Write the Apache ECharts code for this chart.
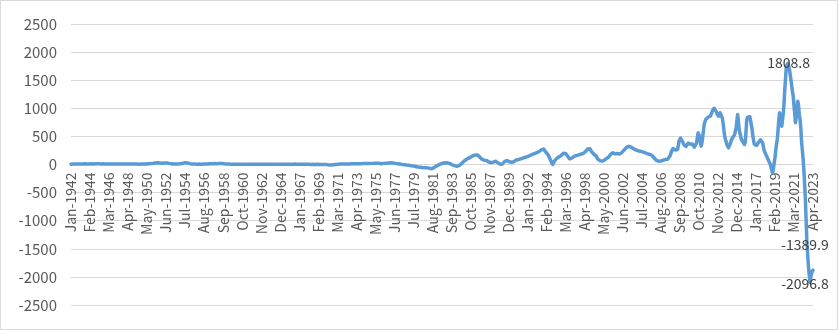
<!DOCTYPE html>
<html>
<head>
<meta charset="utf-8">
<script src="https://cdn.jsdelivr.net/npm/echarts@6/dist/echarts.min.js"></script>
<style>
html,body{margin:0;padding:0;background:#fff;}
#chart{width:838px;height:330px;}
</style>
</head>
<body>
<div id="chart"></div>
<script>
// Category setup: monthly from Jan-1942 to Apr-2023
const monthNames = ['Jan','Feb','Mar','Apr','May','Jun','Jul','Aug','Sep','Oct','Nov','Dec'];
const startYear = 1942;

// Monthly values, one row per year
const values = [
/*1942*/ 5,6,8,7,9,10,8,7,9,11,10,9,
/*1943*/ 8,10,12,11,9,10,12,13,11,10,12,11,
/*1944*/ 10,12,11,13,12,10,11,13,14,12,11,10,
/*1945*/ 12,13,11,10,12,14,13,11,10,9,11,12,
/*1946*/ 10,9,8,10,11,9,8,7,9,10,8,9,
/*1947*/ 8,9,10,8,7,9,10,11,9,8,10,9,
/*1948*/ 9,10,11,10,9,8,10,11,12,10,9,10,
/*1949*/ 8,7,6,8,9,7,6,5,7,8,9,8,
/*1950*/ 9,10,12,11,13,15,14,16,18,17,19,20,
/*1951*/ 22,24,26,28,25,27,30,32,29,27,25,24,
/*1952*/ 22,20,23,25,27,28,26,24,22,20,18,16,
/*1953*/ 15,14,12,10,9,8,10,12,11,9,8,10,
/*1954*/ 12,15,18,22,26,30,33,35,32,28,24,20,
/*1955*/ 16,13,10,8,7,6,8,9,7,6,5,6,
/*1956*/ 7,8,6,5,7,8,9,7,6,8,9,8,
/*1957*/ 7,8,10,12,11,13,15,14,16,18,17,15,
/*1958*/ 14,16,18,20,22,19,17,15,13,12,10,9,
/*1959*/ 8,7,6,7,8,6,5,6,7,5,4,5,
/*1960*/ 5,6,5,4,6,7,5,4,5,6,7,6,
/*1961*/ 5,4,6,5,4,5,6,7,6,5,4,5,
/*1962*/ 6,5,4,5,6,5,4,3,5,6,5,4,
/*1963*/ 5,6,7,6,5,4,5,6,5,4,5,6,
/*1964*/ 5,4,3,4,5,6,5,4,5,6,5,4,
/*1965*/ 3,4,5,4,3,4,5,6,5,4,3,4,
/*1966*/ 5,6,5,4,5,6,7,6,5,4,5,6,
/*1967*/ 5,4,5,6,5,4,3,4,5,4,3,2,
/*1968*/ 3,4,3,2,3,4,5,4,3,2,1,2,
/*1969*/ 3,2,1,0,1,2,1,0,-1,0,1,0,
/*1970*/ -2,-4,-6,-8,-10,-12,-10,-8,-6,-4,-2,0,
/*1971*/ 2,4,5,6,5,7,8,7,6,8,9,8,
/*1972*/ 9,10,9,8,10,11,10,9,11,12,11,10,
/*1973*/ 12,13,12,14,15,14,13,15,16,15,14,16,
/*1974*/ 17,16,18,19,18,17,19,20,19,18,20,21,
/*1975*/ 20,19,21,22,20,19,21,22,23,21,20,22,
/*1976*/ 15,16,18,20,19,22,24,23,25,27,28,30,
/*1977*/ 30,28,27,25,24,22,20,18,16,14,12,10,
/*1978*/ 8,6,4,2,0,-2,-4,-6,-8,-10,-12,-15,
/*1979*/ -15,-18,-20,-22,-25,-24,-28,-30,-32,-35,-38,-42,
/*1980*/ -45,-40,-48,-50,-46,-52,-55,-50,-56,-58,-55,-60,
/*1981*/ -60,-62,-65,-68,-70,-72,-75,-70,-62,-55,-45,-35,
/*1982*/ -28,-20,-15,-8,-2,5,10,15,20,25,28,30,
/*1983*/ 30,32,30,28,25,20,15,8,0,-5,-10,-15,
/*1984*/ -20,-25,-28,-30,-30,-28,-20,-10,0,15,30,45,
/*1985*/ 55,65,75,85,95,105,110,115,120,130,140,150,
/*1986*/ 155,160,165,170,175,180,170,160,150,135,120,105,
/*1987*/ 95,85,80,75,72,70,71,65,55,45,40,35,
/*1988*/ 32,30,35,42,50,55,59,50,40,30,20,10,
/*1989*/ 5,2,0,10,25,40,55,65,70,71,65,55,
/*1990*/ 50,45,42,40,42,41,50,60,70,80,85,88,
/*1991*/ 89,92,95,100,105,110,115,120,125,130,133,136,
/*1992*/ 140,150,155,160,170,175,180,190,185,195,200,205,
/*1993*/ 210,215,219,230,240,250,260,270,279,275,260,240,
/*1994*/ 220,208,190,170,140,110,80,50,20,0,30,60,
/*1995*/ 80,95,105,115,125,135,140,148,160,175,190,200,
/*1996*/ 205,208,195,180,160,140,120,100,89,100,115,130,
/*1997*/ 140,145,150,155,158,160,165,170,175,180,185,190,
/*1998*/ 192,196,205,215,230,245,260,275,290,297,280,250,
/*1999*/ 230,210,195,185,180,178,150,119,100,90,80,70,
/*2000*/ 65,60,59,62,70,80,90,100,110,115,119,140,
/*2001*/ 160,180,195,205,208,200,195,190,200,210,195,190,
/*2002*/ 185,188,190,200,215,230,245,260,275,290,305,315,
/*2003*/ 320,324,326,322,310,300,290,280,270,267,262,255,
/*2004*/ 250,245,240,238,237,235,230,225,220,215,210,205,
/*2005*/ 200,195,190,185,180,178,175,165,150,135,120,100,
/*2006*/ 85,75,65,60,59,55,58,62,70,80,75,80,
/*2007*/ 85,88,89,89,92,100,120,150,190,230,260,285,
/*2008*/ 297,280,260,240,237,270,340,420,445,470,475,440,
/*2009*/ 400,360,330,326,320,326,350,380,390,370,360,380,
/*2010*/ 386,360,330,310,297,320,380,480,560,593,500,400,
/*2011*/ 326,380,480,600,712,760,801,820,831,840,850,860,
/*2012*/ 860,880,920,960,991,1000,1009,980,940,900,870,860,
/*2013*/ 880,920,949,900,820,720,600,500,445,400,350,320,
/*2014*/ 297,326,360,400,445,475,490,504,530,564,650,780,
/*2015*/ 890,760,623,560,500,445,420,400,380,356,400,600,
/*2016*/ 801,840,860,872,850,780,700,623,500,420,360,326,
/*2017*/ 326,340,360,386,400,420,440,445,430,380,300,240,
/*2018*/ 208,180,150,120,90,59,30,0,-60,-110,-148,-80,
/*2019*/ 30,120,250,350,445,600,780,920,850,750,682,800,
/*2020*/ 920,1100,1350,1550,1750,1780,1800,1808.8,1700,1600,1513,1400,
/*2021*/ 1300,1216,1050,900,742,850,1000,1127,1050,890,800,650,
/*2022*/ 400,250,100,-100,-350,-623,-1000,-1389.9,-1600,-1808,-1950,-2096.8,
/*2023*/ -2000,-1950,-1900,-1880
];

// Points carrying a data label, and label nudges to match the reference
const labelCategories = ['Aug-2020', 'Aug-2022', 'Dec-2022'];
const labelOffsets = [[0, 0], [-2, 2], [-5, 1]];

// Y axis ticks
const yMin = -2500, yMax = 2500, yStep = 500;

const categories = values.map((v, i) =>
  monthNames[i % 12] + '-' + (startYear + Math.floor(i / 12)));

const seriesData = values.map((v, i) => {
  const k = labelCategories.indexOf(categories[i]);
  if (k < 0) return v;
  return {
    value: v,
    label: {
      show: true,
      position: 'inside',
      offset: labelOffsets[k],
      formatter: '{c}',
      color: '#404040',
      fontSize: 14,
      fontFamily: 'Noto Sans CJK SC'
    }
  };
});

// grid geometry
const gridTop = 24, gridBottom = 25, chartH = 330;
const plotH = chartH - gridTop - gridBottom;
// shift of the category axis from the grid bottom up to the zero line
const zeroShift = -plotH * (0 - yMin) / (yMax - yMin);

const chart = echarts.init(document.getElementById('chart'), null, {renderer: 'canvas'});
chart.setOption({
  animation: false,
  backgroundColor: '#ffffff',
  textStyle: {fontFamily: 'Noto Sans CJK SC'},
  graphic: [{
    type: 'rect',
    shape: {x: 0.5, y: 0.5, width: 837, height: 329},
    style: {fill: 'none', stroke: '#d9d9d9', lineWidth: 1},
    silent: true
  }],
  grid: {left: 71, right: 25, top: gridTop, bottom: gridBottom, containLabel: false, outerBoundsMode: 'none'},
  xAxis: {
    type: 'category',
    data: categories,
    boundaryGap: false,
    position: 'bottom',
    offset: zeroShift,
    axisLine: {show: true, onZero: false, lineStyle: {color: '#d9d9d9', width: 1}},
    axisTick: {show: false},
    splitLine: {show: false},
    axisLabel: {
      interval: 24,
      rotate: 90,
      color: '#595959',
      fontSize: 14,
      margin: 8,
      fontFamily: 'Noto Sans CJK SC'
    }
  },
  yAxis: {
    type: 'value',
    min: yMin,
    max: yMax,
    interval: yStep,
    axisLine: {show: false},
    axisTick: {show: false},
    splitLine: {lineStyle: {color: '#d9d9d9', width: 1}},
    axisLabel: {
      color: '#595959', fontSize: 15, margin: 14, fontFamily: 'Noto Sans CJK SC',
      formatter: v => String(v)
    }
  },
  series: [{
    type: 'line',
    data: seriesData,
    showSymbol: true,
    showAllSymbol: true,
    symbol: 'circle',
    symbolSize: 1,
    itemStyle: {color: '#5b9bd5'},
    lineStyle: {color: '#5b9bd5', width: 3.5, join: 'round', cap: 'round'},
    sampling: null,
    label: {show: false},
    z: 3
  }]
});
</script>
</body>
</html>
